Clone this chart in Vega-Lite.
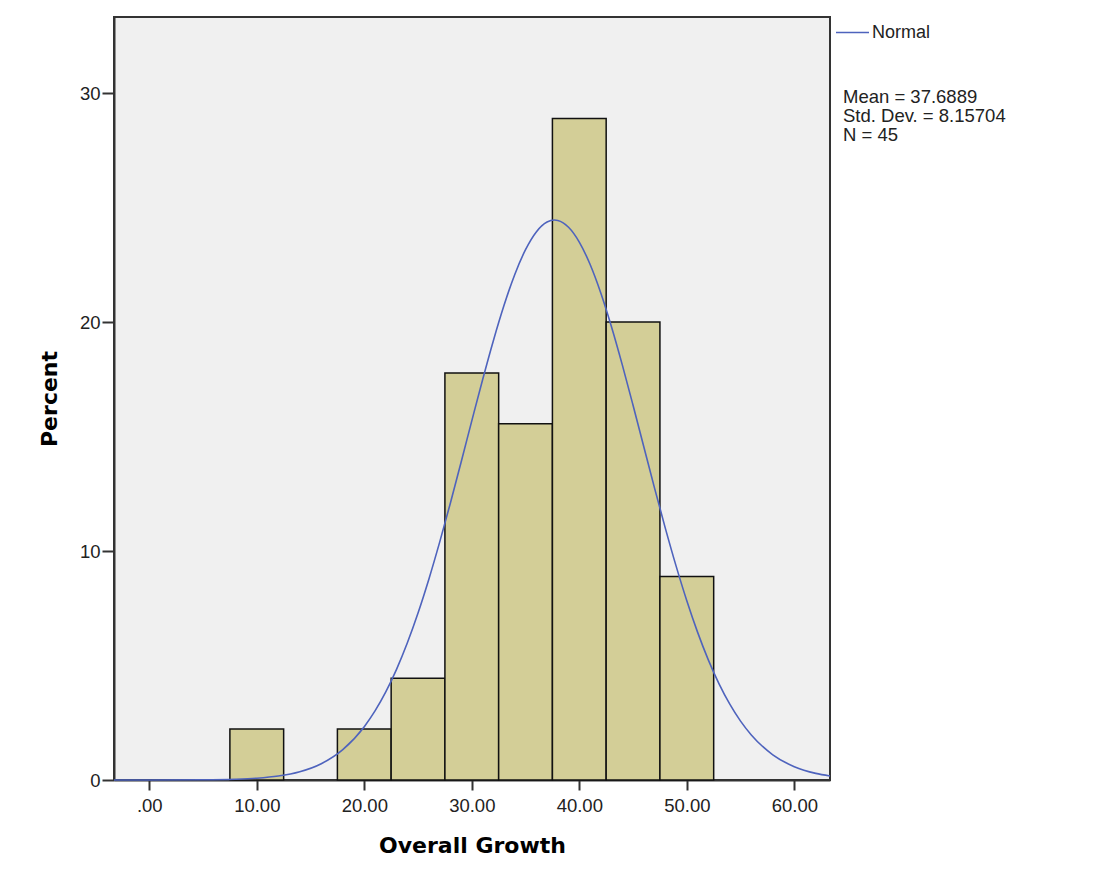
{
  "$schema": "https://vega.github.io/schema/vega-lite/v6.json",
  "width": 716,
  "height": 763,
  "autosize": {"type": "none"},
  "padding": {"left": 114, "top": 17, "right": 263, "bottom": 97},
  "background": "#ffffff",
  "config": {
    "view": {"fill": "#f0f0f0", "stroke": "#333333", "strokeWidth": 2},
    "font": "Liberation Sans",
    "axis": {
      "grid": false,
      "domainColor": "#333333",
      "domainWidth": 2,
      "tickColor": "#333333",
      "tickWidth": 2,
      "tickSize": 10,
      "labelFont": "Liberation Sans",
      "labelFontSize": 18.5,
      "labelColor": "#222222",
      "titleFont": "DejaVu Sans",
      "titleFontSize": 22,
      "titleFontWeight": "bold",
      "titleColor": "#000000"
    }
  },
  "datasets": {
    "bins": [
      {"bin_start": 7.5, "bin_end": 12.5, "percent": 2.222},
      {"bin_start": 17.5, "bin_end": 22.5, "percent": 2.222},
      {"bin_start": 22.5, "bin_end": 27.5, "percent": 4.444},
      {"bin_start": 27.5, "bin_end": 32.5, "percent": 17.778},
      {"bin_start": 32.5, "bin_end": 37.5, "percent": 15.556},
      {"bin_start": 37.5, "bin_end": 42.5, "percent": 28.889},
      {"bin_start": 42.5, "bin_end": 47.5, "percent": 20.0},
      {"bin_start": 47.5, "bin_end": 52.5, "percent": 8.889}
    ],
    "curve": [
      {"x": -3.28, "pct": 0.0001},
      {"x": 0, "pct": 0.0006},
      {"x": 5, "pct": 0.008},
      {"x": 8, "pct": 0.0325},
      {"x": 10, "pct": 0.077},
      {"x": 12, "pct": 0.172},
      {"x": 14, "pct": 0.361},
      {"x": 16, "pct": 0.713},
      {"x": 18, "pct": 1.328},
      {"x": 20, "pct": 2.329},
      {"x": 21, "pct": 3.016},
      {"x": 22, "pct": 3.846},
      {"x": 23, "pct": 4.833},
      {"x": 24, "pct": 5.982},
      {"x": 25, "pct": 7.293},
      {"x": 26, "pct": 8.76},
      {"x": 27, "pct": 10.365},
      {"x": 28, "pct": 12.078},
      {"x": 29, "pct": 13.867},
      {"x": 30, "pct": 15.682},
      {"x": 31, "pct": 17.471},
      {"x": 32, "pct": 19.175},
      {"x": 33, "pct": 20.73},
      {"x": 34, "pct": 22.077},
      {"x": 35, "pct": 23.161},
      {"x": 36, "pct": 23.936},
      {"x": 37, "pct": 24.367},
      {"x": 37.69, "pct": 24.454},
      {"x": 38, "pct": 24.436},
      {"x": 39, "pct": 24.14},
      {"x": 40, "pct": 23.492},
      {"x": 41, "pct": 22.52},
      {"x": 42, "pct": 21.267},
      {"x": 43, "pct": 19.783},
      {"x": 44, "pct": 18.128},
      {"x": 45, "pct": 16.365},
      {"x": 46, "pct": 14.552},
      {"x": 47, "pct": 12.747},
      {"x": 48, "pct": 11.0},
      {"x": 49, "pct": 9.35},
      {"x": 50, "pct": 7.829},
      {"x": 51, "pct": 6.458},
      {"x": 52, "pct": 5.248},
      {"x": 53, "pct": 4.2},
      {"x": 54, "pct": 3.312},
      {"x": 55, "pct": 2.572},
      {"x": 56, "pct": 1.968},
      {"x": 58, "pct": 1.101},
      {"x": 60, "pct": 0.5805},
      {"x": 62, "pct": 0.2881},
      {"x": 63.32, "pct": 0.1756}
    ]
  },
  "layer": [
    {
      "data": {"name": "bins"},
      "mark": {"type": "bar", "fill": "#d3ce97", "stroke": "#111111", "strokeWidth": 1.5},
      "encoding": {
        "x": {
          "field": "bin_start",
          "type": "quantitative",
          "scale": {"domain": [-3.28, 63.32], "nice": false, "zero": false},
          "axis": {
            "values": [0, 10, 20, 30, 40, 50, 60],
            "labelExpr": "datum.value == 0 ? '.00' : format(datum.value, '.2f')",
            "labelPadding": 6,
            "title": "Overall Growth",
            "titlePadding": 21
          }
        },
        "x2": {"field": "bin_end"},
        "y": {
          "field": "percent",
          "type": "quantitative",
          "scale": {"domain": [0, 33.32], "nice": false},
          "axis": {
            "values": [0, 10, 20, 30],
            "tickSize": 12,
            "labelPadding": 2,
            "title": "Percent",
            "titlePadding": 18
          }
        },
        "y2": {"datum": 0}
      }
    },
    {
      "data": {"name": "curve"},
      "mark": {"type": "line", "strokeWidth": 1.6, "interpolate": "monotone"},
      "encoding": {
        "x": {"field": "x", "type": "quantitative"},
        "y": {"field": "pct", "type": "quantitative"},
        "stroke": {
          "datum": "Normal",
          "type": "nominal",
          "scale": {"range": ["#4e63bd"]},
          "legend": {
            "orient": "none",
            "legendX": 729,
            "legendY": -2,
            "symbolType": "stroke",
            "symbolSize": 1089,
            "symbolStrokeWidth": 1.6,
            "symbolOffset": -8,
            "labelFont": "Liberation Sans",
            "labelFontSize": 18,
            "labelColor": "#222222",
            "labelOffset": 2,
            "title": ["Mean = 37.6889", "Std. Dev. = 8.15704", "N = 45"],
            "titleOrient": "bottom",
            "titleAnchor": "start",
            "titleFont": "Liberation Sans",
            "titleFontSize": 18.5,
            "titleFontWeight": "normal",
            "titleColor": "#222222",
            "titleLineHeight": 19,
            "titlePadding": 46
          }
        }
      }
    }
  ]
}
